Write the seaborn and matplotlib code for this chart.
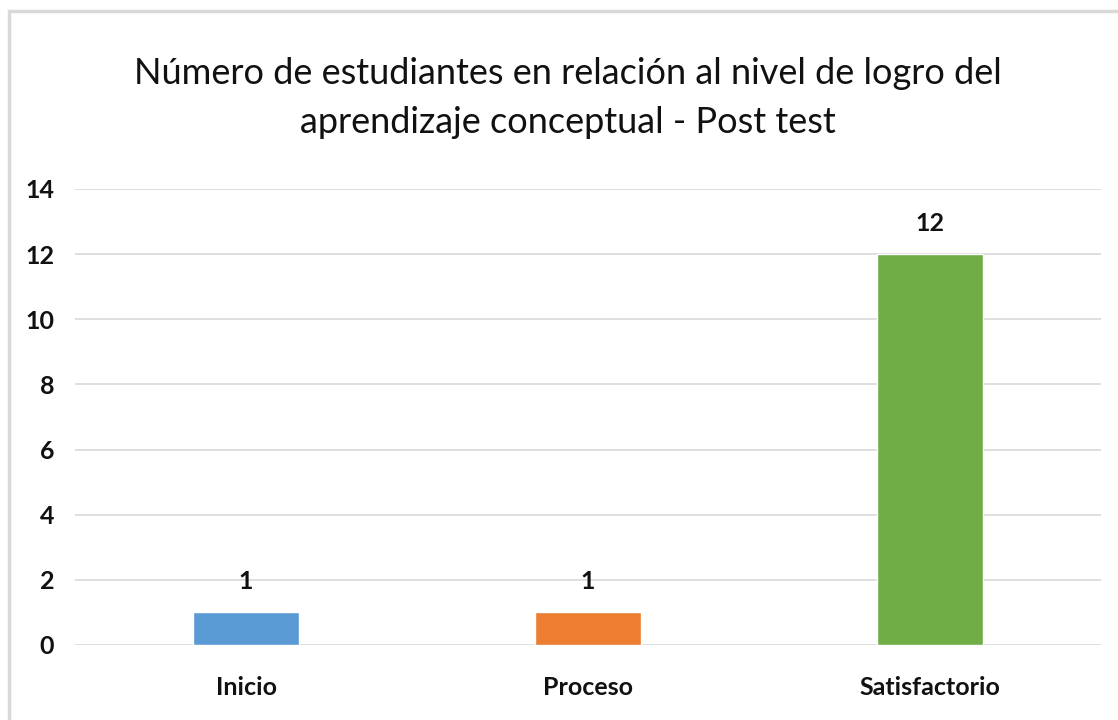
import matplotlib as mpl
mpl.use('agg')
import matplotlib.pyplot as plt
import seaborn as sns
from matplotlib.patches import Rectangle

niveles = ['Inicio', 'Proceso', 'Satisfactorio']
estudiantes = [1, 1, 12]
colores = ['#5B9BD5', '#ED7D31', '#70AD47']
yticks = [0, 2, 4, 6, 8, 10, 12, 14]

sns.set_theme(style='white')
plt.rcParams['font.family'] = ['Lato', 'DejaVu Sans']

fig = plt.figure(figsize=(11.18, 7.2), dpi=100)
ax = fig.add_axes([0.0671, 0.1042, 0.9177, 0.6333])

sns.barplot(x=niveles, y=estudiantes, hue=niveles, palette=colores,
            width=0.31, legend=False, saturation=1, ax=ax)

ax.set_ylim(0, 14)
ax.set_yticks(yticks)
ax.set_xlim(-0.5, 2.5)
ax.yaxis.grid(True, color='#D9D9D9', linewidth=1.2)
ax.set_axisbelow(True)
for s in ax.spines.values():
    s.set_visible(False)
ax.tick_params(axis='both', length=0, labelsize=18, colors='#111111')
ax.tick_params(axis='y', pad=15)
ax.tick_params(axis='x', pad=22)
for lbl in ax.get_xticklabels() + ax.get_yticklabels():
    lbl.set_fontweight('bold')

for c in ax.containers:
    ax.bar_label(c, padding=14, fontsize=18, fontweight='bold', color='#111111')

fig.text(0.508, 0.864, 'Número de estudiantes en relación al nivel de logro del\naprendizaje conceptual - Post test',
         ha='center', va='center', fontsize=26, color='#111111', linespacing=1.6)

fig.patches.append(Rectangle((9 / 1118, -0.05), 1.2, 1 - 11 / 720 + 0.05,
                             transform=fig.transFigure, fill=False,
                             edgecolor='#D9D9D9', linewidth=2.5))

fig.savefig('out.png', dpi=100)
